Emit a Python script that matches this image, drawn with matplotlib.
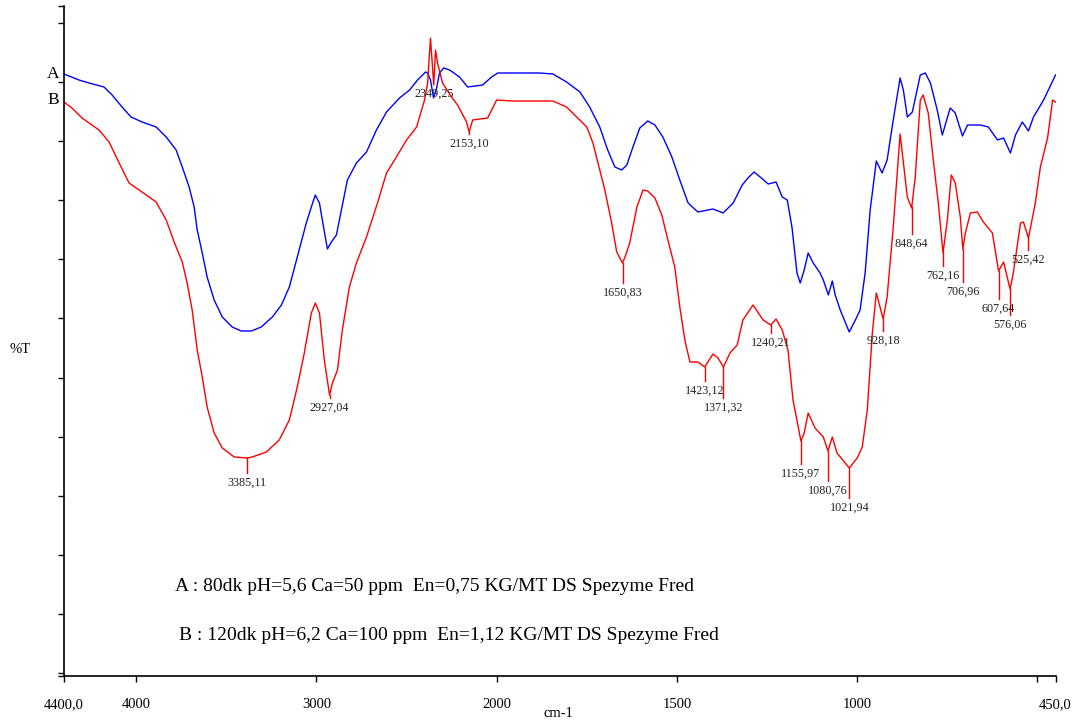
import numpy as np
import matplotlib
matplotlib.use("Agg")
import matplotlib.pyplot as plt

plt.rcParams['font.family'] = ['Liberation Serif', 'DejaVu Serif']

# Spectrum A (blue): wavenumber (cm-1) and %T
wn_a = [4400, 4317, 4261, 4178, 4133, 4078, 4028, 3967, 3889, 3833, 3778, 3744,
        3706, 3678, 3661, 3633, 3606, 3567, 3522, 3467, 3417, 3361, 3306, 3244,
        3194, 3150, 3106, 3056, 3028, 3006, 2983, 2967, 2939, 2917, 2889, 2861,
        2828, 2778, 2722, 2667, 2611, 2539, 2483, 2439, 2394, 2383, 2367, 2350,
        2333, 2317, 2294, 2261, 2206, 2161, 2078, 2028, 1997, 1881, 1844, 1806,
        1769, 1742, 1714, 1692, 1672, 1653, 1639, 1622, 1603, 1581, 1561, 1539,
        1514, 1492, 1469, 1442, 1400, 1372, 1344, 1319, 1303, 1286, 1269, 1247,
        1225, 1208, 1194, 1181, 1167, 1158, 1147, 1136, 1122, 1103, 1094, 1080,
        1069, 1061, 1047, 1022, 1005, 992, 978, 964, 947, 931, 917, 900, 881,
        872, 861, 847, 825, 811, 797, 778, 764, 742, 728, 708, 694, 658, 636,
        611, 594, 575, 561, 542, 525, 511, 483, 450]
t_a = [60.4, 59.8, 59.5, 59.1, 58.3, 57.1, 56.1, 55.6, 55.1, 54.1, 52.8, 51.1,
       49.1, 47.1, 44.8, 42.5, 40.1, 37.8, 36.1, 35.1, 34.7, 34.7, 35.1, 36.1,
       37.3, 39.1, 42.1, 45.5, 47.1, 48.3, 47.5, 45.8, 42.9, 43.6, 44.3, 46.8,
       49.8, 51.5, 52.6, 54.8, 56.6, 58.0, 58.8, 59.8, 60.6, 60.5, 59.8, 58.0,
       59.0, 60.5, 61.0, 60.8, 60.1, 59.1, 59.3, 60.1, 60.5, 60.5, 60.4, 59.6,
       58.6, 57.1, 55.1, 52.8, 51.1, 50.8, 51.3, 53.1, 55.0, 55.7, 55.3, 54.1,
       52.1, 49.8, 47.5, 46.6, 46.9, 46.5, 47.5, 49.3, 50.0, 50.6, 50.1, 49.4,
       49.6, 48.1, 47.8, 45.1, 40.5, 39.5, 40.8, 42.5, 41.5, 40.5, 39.8, 38.3,
       39.7, 38.3, 36.8, 34.6, 35.8, 36.8, 40.5, 46.8, 51.7, 50.5, 51.8, 55.8,
       60.0, 58.8, 56.1, 56.6, 60.3, 60.5, 59.5, 56.8, 54.3, 57.0, 56.5, 54.2,
       55.3, 55.3, 55.1, 53.8, 54.0, 52.5, 54.3, 55.6, 54.7, 56.1, 57.8, 60.3]

# Spectrum B (red)
wn_b = [4400, 4356, 4300, 4206, 4150, 4094, 4039, 3983, 3889, 3833, 3789, 3744,
        3717, 3689, 3661, 3633, 3606, 3567, 3522, 3456, 3385, 3356, 3278, 3206,
        3150, 3106, 3067, 3028, 3006, 2983, 2956, 2927, 2911, 2883, 2856, 2817,
        2778, 2722, 2661, 2611, 2556, 2500, 2444, 2400, 2383, 2367, 2349, 2339,
        2328, 2300, 2250, 2217, 2167, 2153, 2133, 2050, 2000, 1956, 1900, 1844,
        1806, 1775, 1750, 1733, 1719, 1700, 1681, 1667, 1651, 1644, 1631, 1611,
        1594, 1581, 1561, 1542, 1525, 1506, 1492, 1478, 1464, 1442, 1423, 1400,
        1386, 1371, 1353, 1333, 1317, 1289, 1261, 1240, 1225, 1208, 1192, 1178,
        1156, 1147, 1136, 1117, 1094, 1081, 1069, 1056, 1022, 1000, 986, 972,
        958, 947, 928, 917, 900, 881, 861, 849, 839, 825, 817, 803, 789, 775,
        762, 750, 739, 728, 714, 707, 700, 686, 667, 650, 625, 608, 594, 576,
        567, 547, 539, 525, 506, 492, 472, 458, 450]
t_b = [57.6, 57.0, 56.0, 54.8, 53.6, 51.5, 49.5, 48.8, 47.6, 45.8, 43.6, 41.6,
       39.5, 36.8, 32.8, 30.1, 27.1, 24.5, 23.0, 22.1, 22.0, 22.1, 22.6, 23.8,
       25.8, 29.1, 32.5, 36.5, 37.5, 36.5, 31.8, 28.3, 29.5, 30.8, 34.8, 39.1,
       41.5, 44.1, 47.5, 50.5, 52.1, 53.8, 55.1, 57.8, 59.5, 64.0, 59.3, 62.8,
       61.5, 59.5, 58.1, 57.3, 55.6, 54.6, 55.8, 56.0, 57.8, 57.7, 57.7, 57.7,
       57.1, 56.0, 55.1, 53.5, 51.5, 48.8, 45.5, 42.6, 41.5, 42.1, 43.5, 47.1,
       48.8, 48.7, 48.0, 46.3, 43.8, 41.1, 37.1, 33.8, 31.6, 31.6, 31.1, 32.4,
       32.0, 31.1, 32.5, 33.3, 35.8, 37.3, 35.8, 35.3, 35.9, 34.8, 32.8, 27.8,
       23.7, 24.5, 26.5, 25.0, 24.1, 22.7, 24.1, 22.5, 21.0, 22.0, 23.1, 26.8,
       34.5, 38.5, 35.9, 38.1, 45.1, 54.4, 48.1, 47.0, 50.1, 57.8, 58.3, 56.5,
       51.8, 47.5, 42.5, 45.8, 50.3, 49.5, 46.1, 42.9, 44.5, 46.5, 46.6, 45.6,
       44.5, 40.7, 41.6, 38.9, 40.5, 45.5, 45.6, 44.0, 47.5, 51.1, 54.0, 57.8,
       57.6]

# Peak picks on spectrum B: position, label, top of label text (%T)
peak_wn = [3385.11, 2927.04, 2349.25, 2153.10, 1650.83, 1423.12, 1371.32,
           1240.21, 1155.97, 1080.76, 1021.94, 928.18, 848.64, 762.16, 706.96,
           607.64, 576.06, 525.42]
peak_txt = ['3385,11', '2927,04', '2349,25', '2153,10', '1650,83', '1423,12',
            '1371,32', '1240,21', '1155,97', '1080,76', '1021,94', '928,18',
            '848,64', '762,16', '706,96', '607,64', '576,06', '525,42']
peak_txt_top = [20.1, 27.6, 59.0, 54.0, 39.1, 29.3, 27.6, 34.1, 21.0, 19.3,
                17.6, 34.3, 44.0, 40.8, 39.2, 37.5, 35.9, 42.4]

x_ticks = [4400, 4000, 3000, 2000, 1500, 1000, 500, 450]
x_tick_labels = ['4400,0', '4000', '3000', '2000', '1500', '1000', '', '450,0']

legend_a = 'A : 80dk pH=5,6 Ca=50 ppm  En=0,75 KG/MT DS Spezyme Fred'
legend_b = 'B : 120dk pH=6,2 Ca=100 ppm  En=1,12 KG/MT DS Spezyme Fred'


def fwd(w):
    # below 2000 cm-1 the axis is stretched by a factor of two
    w = np.asarray(w, dtype=float)
    return np.where(w >= 2000, w - 2000, 2 * (w - 2000))


def inv(u):
    u = np.asarray(u, dtype=float)
    return np.where(u >= 0, u + 2000, u / 2 + 2000)


W, H = 1082, 724
fig = plt.figure(figsize=(W / 100, H / 100), dpi=100)
ax = fig.add_axes([64 / W, (H - 676) / H, (1055.5 - 64) / W, (676 - 6) / H])
ax.set_xscale('function', functions=(fwd, inv))
ax.set_xlim(4400, 450)
ax.set_ylim(0.2, 67.2)

ax.plot(wn_a, t_a, color='#0000ff', lw=1.0)
ax.plot(wn_b, t_b, color='#ff0000', lw=1.0)

# peak markers and labels
wn_b_arr = np.array(wn_b)[::-1]
t_b_arr = np.array(t_b)[::-1]
for w, txt, top in zip(peak_wn, peak_txt, peak_txt_top):
    yc = np.interp(w, wn_b_arr, t_b_arr)
    ax.plot([w, w], [yc, top + 0.4], color='#ff0000', lw=1.0)
    ax.text(w, top, txt, ha='center', va='top', fontsize=8.7, color='#222222')

for s in ['top', 'right']:
    ax.spines[s].set_visible(False)
for s in ['left', 'bottom']:
    ax.spines[s].set_linewidth(1.2)

ax.set_xticks(x_ticks)
ax.set_xticklabels(x_tick_labels)
ax.minorticks_off()
ax.set_yticks(list(np.linspace(0.5, 65.5, 12)) + [0.2, 67.2])
ax.set_yticklabels([])
ax.tick_params(axis='x', direction='out', length=4, width=1.0, pad=12,
               labelsize=10.5)
ax.tick_params(axis='y', direction='out', length=4, width=1.0)

fig.text(59 / W, 1 - 74.5 / H, 'A', ha='right', va='center', fontsize=12.5)
fig.text(59 / W, 1 - 99.5 / H, 'B', ha='right', va='center', fontsize=12.5)
fig.text(20 / W, 1 - 350 / H, '%T', ha='center', va='center', fontsize=10.5)
fig.text(558 / W, 1 - 717 / H, 'cm-1', ha='center', va='baseline', fontsize=10.5)

fig.text(175 / W, 1 - 591 / H, legend_a, ha='left', va='baseline', fontsize=14)
fig.text(179 / W, 1 - 640 / H, legend_b, ha='left', va='baseline', fontsize=14)

fig.savefig('out.png', dpi=100)
